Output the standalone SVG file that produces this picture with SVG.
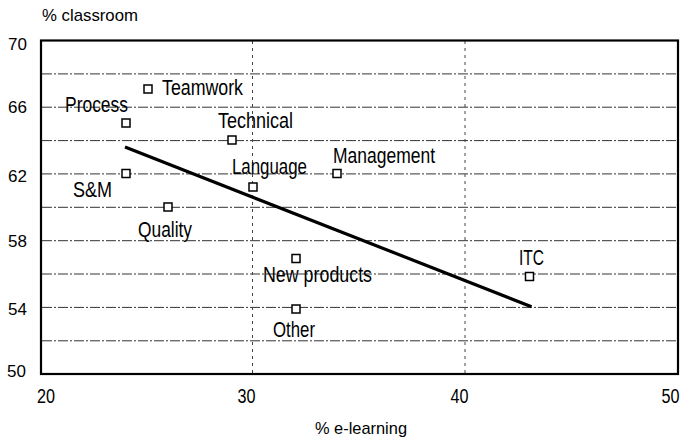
<svg xmlns="http://www.w3.org/2000/svg" width="683" height="438" viewBox="0 0 683 438">
<style>
text{font-family:"Liberation Sans",Arial,sans-serif;font-size:17px;fill:#000}
text.n{font-family:"Liberation Sans Narrow","Liberation Sans",Arial,sans-serif;font-size:21.5px}
text.xl{font-family:"Liberation Sans Narrow","Liberation Sans",Arial,sans-serif;font-size:20px;text-anchor:middle}
.grid{stroke:#333;stroke-width:1;stroke-dasharray:10 2 2 2;fill:none}
.vgrid{stroke:#444;stroke-width:1;stroke-dasharray:3 4;fill:none}
.frame{stroke:#000;stroke-width:2.2;fill:none}
.mk{fill:#fff;stroke:#000;stroke-width:1.5}
.trend{stroke:#000;stroke-width:3.2;fill:none;stroke-linecap:butt}
.tl{text-anchor:end}
</style>
<rect width="683" height="438" fill="#fff"/>
<g id="grid">
<line class="grid" x1="42" y1="73.9" x2="677" y2="73.9"/>
<line class="grid" x1="42" y1="107.2" x2="677" y2="107.2"/>
<line class="grid" x1="42" y1="140.6" x2="677" y2="140.6"/>
<line class="grid" x1="42" y1="173.9" x2="677" y2="173.9"/>
<line class="grid" x1="42" y1="207.3" x2="677" y2="207.3"/>
<line class="grid" x1="42" y1="240.7" x2="677" y2="240.7"/>
<line class="grid" x1="42" y1="274" x2="677" y2="274"/>
<line class="grid" x1="42" y1="307.4" x2="677" y2="307.4"/>
<line class="grid" x1="42" y1="340.8" x2="677" y2="340.8"/>
<line class="vgrid" x1="252.5" y1="41" x2="252.5" y2="373"/>
<line class="vgrid" x1="465" y1="41" x2="465" y2="373"/>
</g>
<rect class="frame" x="41" y="40.5" width="637" height="333.5"/>
<g id="axes">
<text x="42" y="21" textLength="96" lengthAdjust="spacingAndGlyphs">% classroom</text>
<text class="tl" x="27" y="50">70</text>
<text class="tl" x="27" y="112.5">66</text>
<text class="tl" x="27" y="181.5">62</text>
<text class="tl" x="27" y="247">58</text>
<text class="tl" x="27" y="315">54</text>
<text class="tl" x="26" y="376.5">50</text>
<text class="xl" x="46" y="403" textLength="18" lengthAdjust="spacingAndGlyphs">20</text>
<text class="xl" x="246.5" y="403" textLength="18" lengthAdjust="spacingAndGlyphs">30</text>
<text class="xl" x="459.5" y="403" textLength="18" lengthAdjust="spacingAndGlyphs">40</text>
<text class="xl" x="670.5" y="403" textLength="18" lengthAdjust="spacingAndGlyphs">50</text>
<text x="315" y="434" textLength="92" lengthAdjust="spacingAndGlyphs">% e-learning</text>
</g>
<g id="connectors">
<line class="trend" x1="125" y1="147" x2="531.5" y2="306.7"/>
</g>
<g id="teamwork"><rect class="mk" x="144" y="85" width="8" height="8"/><text class="n" x="162" y="95" textLength="81" lengthAdjust="spacingAndGlyphs">Teamwork</text></g>
<g id="process"><rect class="mk" x="122" y="119" width="8" height="8"/><text class="n" x="65" y="111.5" textLength="63" lengthAdjust="spacingAndGlyphs">Process</text></g>
<g id="technical"><rect class="mk" x="228" y="136" width="8" height="8"/><text class="n" x="218" y="128" textLength="75" lengthAdjust="spacingAndGlyphs">Technical</text></g>
<g id="language"><rect class="mk" x="249" y="183" width="8" height="8"/><text class="n" x="232" y="174" textLength="75" lengthAdjust="spacingAndGlyphs">Language</text></g>
<g id="management"><rect class="mk" x="333" y="169.5" width="8" height="8"/><text class="n" x="333" y="163.3" textLength="102" lengthAdjust="spacingAndGlyphs">Management</text></g>
<g id="sm"><rect class="mk" x="122" y="169.5" width="8" height="8"/><text class="n" x="73" y="197" textLength="39" lengthAdjust="spacingAndGlyphs">S&amp;M</text></g>
<g id="quality"><rect class="mk" x="164" y="203" width="8" height="8"/><text class="n" x="138" y="236.5" textLength="54" lengthAdjust="spacingAndGlyphs">Quality</text></g>
<g id="new-products"><rect class="mk" x="292" y="254.5" width="8" height="8"/><text class="n" x="263" y="281.5" textLength="109" lengthAdjust="spacingAndGlyphs">New products</text></g>
<g id="other"><rect class="mk" x="292" y="305" width="8" height="8"/><text class="n" x="273" y="336.5" textLength="42" lengthAdjust="spacingAndGlyphs">Other</text></g>
<g id="itc"><rect class="mk" x="525.5" y="272.5" width="8" height="8"/><text class="n" x="519" y="265" textLength="25" lengthAdjust="spacingAndGlyphs">ITC</text></g>
</svg>
